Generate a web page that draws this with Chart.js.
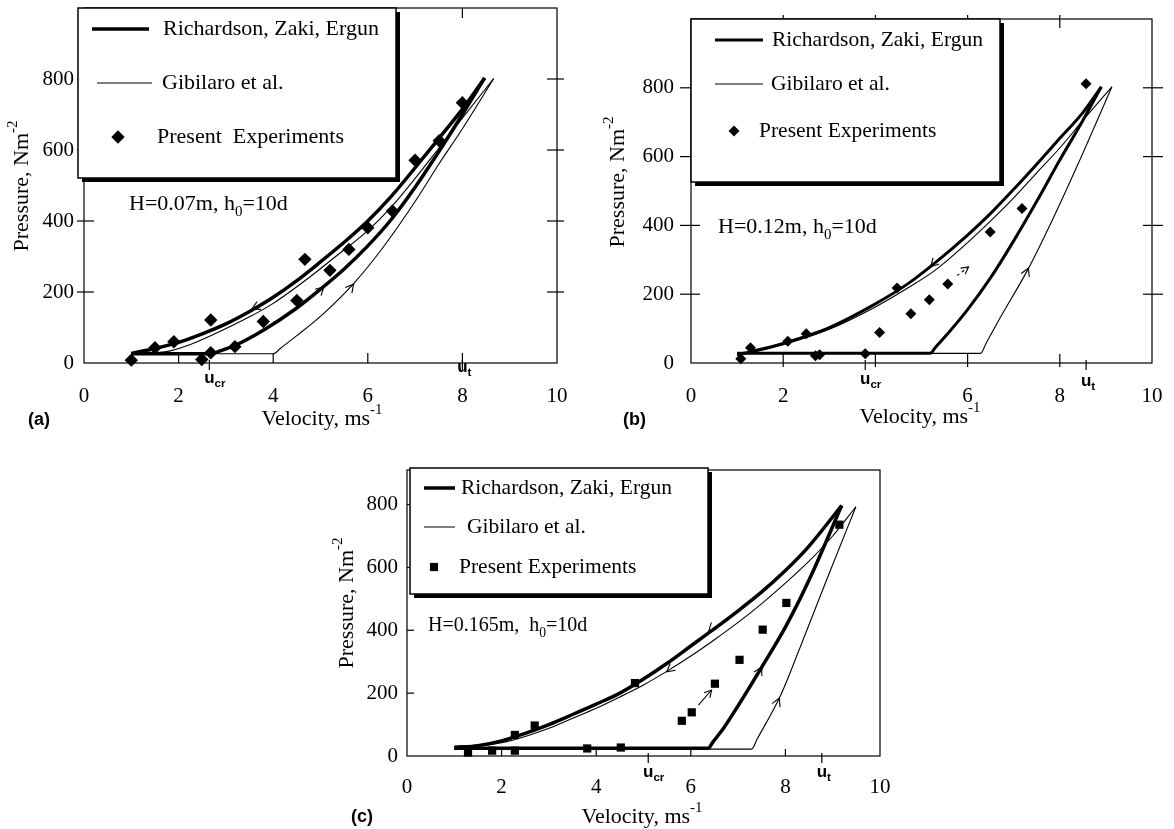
<!DOCTYPE html>
<html>
<head>
<meta charset="utf-8">
<script src="https://cdn.jsdelivr.net/npm/chart.js@4.4.1/dist/chart.umd.min.js"></script>
<style>
body { margin: 0; background: #fff; }
#wrap { position: relative; width: 1174px; height: 829px; overflow: hidden; background: #fff; }
#wrap canvas { position: absolute; }
</style>
</head>
<body>
<div id="wrap">
  <canvas id="chartA" width="600" height="440" style="left:0px;top:0px"></canvas>
  <canvas id="chartB" width="574" height="440" style="left:600px;top:0px"></canvas>
  <canvas id="chartC" width="580" height="389" style="left:330px;top:440px"></canvas>
</div>
<script>
var xTicks = [0, 2, 4, 6, 8, 10];
var yTicks = [0, 200, 400, 600, 800];

// (a) H=0.07m
var aRzeDownX = [1.0, 1.5, 2.0, 2.5, 3.0, 3.5, 4.0, 4.5, 5.0, 5.5, 6.0, 6.5, 7.0, 7.5, 8.0, 8.47];
var aRzeDownY = [27, 41, 58, 82, 110, 145, 185, 232, 285, 340, 400, 470, 550, 632, 715, 803];
var aRzeUpX = [1.0, 2.7, 2.85, 3.2, 3.8, 4.5, 5.0, 5.5, 6.0, 6.5, 7.0, 7.5, 8.0, 8.47];
var aRzeUpY = [26, 26, 33, 50, 93, 155, 208, 265, 330, 405, 495, 595, 700, 803];
var aGibDownX = [1.0, 1.75, 2.25, 2.7, 3.5, 4.0, 4.8, 5.3, 6.0, 6.5, 7.0, 7.5, 8.0, 8.66];
var aGibDownY = [26, 32, 52, 78, 130, 168, 245, 298, 373, 440, 520, 605, 690, 801];
var aGibUpX = [1.0, 4.01, 4.15, 4.5, 5.07, 5.71, 6.34, 7.0, 7.5, 8.0, 8.66];
var aGibUpY = [26, 26, 41, 77, 140, 225, 329, 455, 560, 660, 801];
var aExpX = [1.0, 1.5, 1.9, 2.49, 2.68, 2.68, 3.19, 3.79, 4.5, 4.67, 5.2, 5.6, 6.0, 6.52, 7.0, 7.51, 8.0];
var aExpY = [8, 43, 60, 10, 29, 121, 46, 117, 176, 292, 261, 320, 381, 428, 571, 626, 733];
var aArrows = [[3.85, 172, 3.55, 152], [4.8, 180, 5.07, 214], [5.45, 182, 5.7, 222]];

// (b) H=0.12m
var bRzeDownX = [1.0, 1.3, 2.0, 3.0, 4.0, 4.7, 5.3, 6.0, 6.5, 7.0, 7.5, 8.0, 8.5, 8.9];
var bRzeDownY = [24, 33, 57, 103, 172, 230, 292, 372, 435, 505, 578, 653, 728, 803];
var bRzeUpX = [1.0, 5.19, 5.3, 5.6, 6.0, 6.5, 7.0, 7.5, 8.0, 8.5, 8.9];
var bRzeUpY = [28, 28, 45, 90, 155, 248, 355, 470, 590, 705, 803];
var bGibDownX = [1.0, 1.3, 2.0, 3.0, 4.0, 4.7, 5.3, 6.0, 6.5, 7.0, 7.5, 8.0, 8.5, 9.13];
var bGibDownY = [24, 30, 53, 98, 163, 218, 270, 350, 413, 480, 553, 625, 705, 803];
var bGibUpX = [1.0, 6.28, 6.4, 6.7, 7.3, 7.8, 8.5, 9.13];
var bGibUpY = [28, 28, 57, 130, 270, 405, 610, 803];
var bExpX = [1.08, 1.29, 2.10, 2.50, 2.70, 2.79, 3.78, 4.09, 4.47, 4.77, 5.17, 5.57, 6.49, 7.18, 8.57];
var bExpY = [12, 44, 63, 85, 21, 24, 27, 89, 218, 143, 184, 230, 381, 449, 812];
var bArrows = [[5.5, 322, 5.2, 280], [7.2, 240, 7.32, 276]];
var bShafts = [[5.77, 254, 6.02, 279]];

// (c) H=0.165m
var cRzeDownX = [1.0, 1.5, 2.0, 2.5, 3.0, 3.5, 4.0, 4.5, 5.0, 5.5, 6.0, 6.5, 7.0, 7.5, 8.0, 8.5, 9.19];
var cRzeDownY = [28, 33, 48, 72, 100, 132, 165, 200, 245, 295, 350, 405, 462, 522, 590, 668, 797];
var cRzeUpX = [1.0, 6.37, 6.47, 6.7, 7.0, 7.5, 8.0, 8.5, 9.19];
var cRzeUpY = [25, 25, 45, 90, 160, 283, 410, 560, 797];
var cGibDownX = [1.3, 2.0, 2.5, 3.0, 3.5, 4.0, 4.5, 5.0, 5.5, 6.0, 6.5, 7.0, 7.5, 8.0, 8.5, 9.0, 9.49];
var cGibDownY = [26, 42, 62, 88, 120, 152, 188, 226, 270, 318, 370, 425, 485, 550, 620, 700, 793];
var cGibUpX = [1.0, 7.29, 7.4, 7.89, 8.31, 8.87, 9.49];
var cGibUpY = [22, 22, 53, 190, 345, 560, 793];
var cExpX = [1.29, 1.80, 2.28, 2.28, 2.70, 3.81, 4.52, 4.82, 5.81, 6.02, 6.51, 7.03, 7.52, 8.02, 9.14];
var cExpY = [11, 17, 67, 17, 97, 24, 27, 232, 112, 139, 230, 306, 402, 487, 736];
var cArrows = [[6.7, 445, 6.38, 398], [5.8, 305, 5.49, 268], [7.4, 255, 7.5, 283], [7.77, 150, 7.87, 184]];
var cShafts = [[6.16, 162, 6.44, 210]];

var serif = "'Liberation Serif', 'Times New Roman', serif";
var sans = "'Liberation Sans', Arial, sans-serif";

function pts(xs, ys) {
  var out = [];
  for (var i = 0; i < xs.length; i++) out.push({x: xs[i], y: ys[i]});
  return out;
}

function richWidth(ctx, parts, size, family, weight) {
  var w = 0;
  parts.forEach(function (p) {
    ctx.font = (weight || '') + ' ' + (p[1] ? size * 0.68 : size) + 'px ' + family;
    w += ctx.measureText(p[0]).width;
  });
  return w;
}

function drawRich(ctx, parts, x, y, size, family, center, weight) {
  if (center) x -= richWidth(ctx, parts, size, family, weight) / 2;
  ctx.textAlign = 'left';
  ctx.textBaseline = 'middle';
  parts.forEach(function (p) {
    var s = p[1] ? size * 0.68 : size;
    var dy = p[1] == 'sub' ? size * 0.36 : (p[1] == 'sup' ? -size * 0.42 : 0);
    ctx.font = (weight || '') + ' ' + s + 'px ' + family;
    ctx.fillText(p[0], x, y + dy);
    x += ctx.measureText(p[0]).width;
  });
}

function seg(ctx, x1, y1, x2, y2) {
  ctx.beginPath(); ctx.moveTo(x1, y1); ctx.lineTo(x2, y2); ctx.stroke();
}

function head(ctx, x1, y1, x2, y2, len) {
  var ang = Math.atan2(y2 - y1, x2 - x1);
  ctx.beginPath();
  ctx.moveTo(x2 - len * Math.cos(ang - 0.5), y2 - len * Math.sin(ang - 0.5));
  ctx.lineTo(x2, y2);
  ctx.lineTo(x2 - len * Math.cos(ang + 0.5), y2 - len * Math.sin(ang + 0.5));
  ctx.stroke();
}

function marker(ctx, style, x, y, r) {
  ctx.beginPath();
  if (style == 'rect') {
    var s = r * Math.SQRT1_2;
    ctx.rect(x - s, y - s, 2 * s, 2 * s);
  } else {
    ctx.moveTo(x - r, y); ctx.lineTo(x, y - r); ctx.lineTo(x + r, y); ctx.lineTo(x, y + r);
    ctx.closePath();
  }
  ctx.fill();
}

function figPlugin(cfg) {
  return {
    id: 'fig',
    beforeDatasetsDraw: function (chart) {
      var ctx = chart.ctx, a = chart.chartArea, xs = chart.scales.x, ys = chart.scales.y;
      ctx.save();
      ctx.strokeStyle = '#000';
      ctx.lineWidth = 1.2;
      ctx.strokeRect(a.left, a.top, a.right - a.left, a.bottom - a.top);
      xTicks.forEach(function (v) {
        if (v <= 0 || v >= 10) return;
        var px = xs.getPixelForValue(v);
        seg(ctx, px, a.bottom + cfg.tickOutX, px, a.bottom - cfg.tickIn);
        if (cfg.allSides) seg(ctx, px, a.top - cfg.tickOutX, px, a.top + cfg.tickIn);
      });
      yTicks.forEach(function (v) {
        if (v <= 0) return;
        var py = ys.getPixelForValue(v);
        seg(ctx, a.left - cfg.tickOut, py, a.left + cfg.tickIn, py);
        if (cfg.allSides) seg(ctx, a.right + cfg.tickOut, py, a.right - cfg.tickIn, py);
      });
      [cfg.ucr, cfg.ut].forEach(function (v) {
        var px = xs.getPixelForValue(v);
        seg(ctx, px, a.bottom - 3, px, a.bottom + 7);
      });
      ctx.restore();
    },
    afterDatasetsDraw: function (chart) {
      var ctx = chart.ctx, xs = chart.scales.x, ys = chart.scales.y;
      ctx.save();
      ctx.strokeStyle = '#000';
      ctx.fillStyle = '#000';
      ctx.lineWidth = 1.1;
      cfg.arrows.forEach(function (q) {
        head(ctx, xs.getPixelForValue(q[0]), ys.getPixelForValue(q[1]), xs.getPixelForValue(q[2]), ys.getPixelForValue(q[3]), 9);
      });
      cfg.shafts.forEach(function (q) {
        var x1 = xs.getPixelForValue(q[0]), y1 = ys.getPixelForValue(q[1]);
        var x2 = xs.getPixelForValue(q[2]), y2 = ys.getPixelForValue(q[3]);
        ctx.setLineDash(cfg.shaftDash);
        seg(ctx, x1, y1, x2, y2);
        ctx.setLineDash([]);
        head(ctx, x1, y1, x2, y2, 8);
      });

      // legend box with drop shadow
      var L = cfg.legend;
      ctx.fillStyle = '#000';
      ctx.fillRect(L.x + 4, L.y + 4, L.w, L.h);
      ctx.fillStyle = '#fff';
      ctx.fillRect(L.x, L.y, L.w, L.h);
      ctx.lineWidth = 1.5;
      ctx.strokeRect(L.x, L.y, L.w, L.h);
      ctx.fillStyle = '#000';
      L.rows.forEach(function (r, i) {
        if (r.lw) {
          ctx.lineWidth = r.lw;
          seg(ctx, r.x1, r.y, r.x2, r.y);
        } else {
          marker(ctx, cfg.marker, r.x1, r.y, r.r);
        }
        drawRich(ctx, [[cfg.names[i], '']], r.tx, r.y, L.size, serif);
      });

      drawRich(ctx, cfg.note, cfg.noteX, cfg.noteY, cfg.noteSize, serif);

      // u_cr and u_t under the axis
      cfg.uLabels.forEach(function (u) {
        var px = xs.getPixelForValue(u.v);
        ctx.font = 'bold 17px ' + sans;
        var w = ctx.measureText('u').width;
        drawRich(ctx, [['u', ''], [u.sub, 'sub']], px - w / 2, u.y, 17, sans, false, 'bold');
      });

      ctx.save();
      ctx.translate(cfg.yTitle[0], cfg.yTitle[1]);
      ctx.rotate(-Math.PI / 2);
      drawRich(ctx, [['Pressure, Nm', ''], ['-2', 'sup']], 0, 0, 22, serif, true);
      ctx.restore();
      drawRich(ctx, [['Velocity, ms', ''], ['-1', 'sup']], cfg.xTitle[0], cfg.xTitle[1], 22, serif, true);
      drawRich(ctx, [[cfg.panel, '']], cfg.panelPos[0], cfg.panelPos[1], 18, sans, false, 'bold');
      ctx.restore();
    }
  };
}

function lineSet(data, w) {
  return {data: data, showLine: true, borderColor: '#000', borderWidth: w, pointRadius: 0,
    cubicInterpolationMode: 'monotone', fill: false, clip: false};
}

function makeChart(id, p) {
  return new Chart(id, {
    type: 'scatter',
    data: {
      datasets: [
        {label: p.names[2], data: p.exp, showLine: false, pointStyle: p.marker, pointRadius: p.markerR,
          pointHoverRadius: p.markerR, backgroundColor: '#000', borderColor: '#000', borderWidth: 0, clip: false},
        lineSet(p.rzeDown, p.thick),
        lineSet(p.rzeUp, p.thick),
        lineSet(p.gibDown, 1.1),
        lineSet(p.gibUp, 1.1)
      ]
    },
    options: {
      responsive: false,
      animation: false,
      events: [],
      layout: {padding: p.padding},
      plugins: {legend: {display: false}, tooltip: {enabled: false}},
      scales: {
        x: {
          type: 'linear', min: 0, max: 10,
          afterBuildTicks: function (s) { s.ticks = xTicks.map(function (v) { return {value: v}; }); },
          afterFit: function (s) { s.height = p.xH; s.paddingLeft = 0; s.paddingRight = 0; },
          grid: {display: false, drawTicks: false},
          border: {display: false},
          ticks: {
            padding: p.xPad, color: '#000', maxRotation: 0, autoSkip: false,
            font: {family: serif, size: 21},
            callback: function (v) { return p.hideX.indexOf(v) >= 0 ? '' : String(v); }
          }
        },
        y: {
          type: 'linear', min: 0, max: p.yMax,
          afterBuildTicks: function (s) { s.ticks = yTicks.map(function (v) { return {value: v}; }); },
          afterFit: function (s) { s.width = p.yW; s.paddingTop = 0; s.paddingBottom = 0; },
          grid: {display: false, drawTicks: false},
          border: {display: false},
          ticks: {padding: p.yPad, color: '#000', font: {family: serif, size: 21}}
        }
      }
    },
    plugins: [figPlugin(p)]
  });
}

makeChart('chartA', {
  rzeDown: pts(aRzeDownX, aRzeDownY), rzeUp: pts(aRzeUpX, aRzeUpY),
  gibDown: pts(aGibDownX, aGibDownY), gibUp: pts(aGibUpX, aGibUpY),
  exp: pts(aExpX, aExpY), marker: 'rectRot', markerR: 6.7, thick: 3.5,
  names: ['Richardson, Zaki, Ergun', 'Gibilaro et al.', 'Present  Experiments'],
  padding: {left: 0, top: 8, right: 43, bottom: 0}, yW: 84, xH: 77, yMax: 1000,
  xPad: 21, yPad: 10, hideX: [],
  tickIn: 10, tickOut: 7, tickOutX: 0, allSides: true,
  ucr: 2.65, ut: 8.0,
  uLabels: [{v: 2.65, sub: 'cr', y: 378}, {v: 8.0, sub: 't', y: 367}],
  arrows: aArrows, shafts: [], shaftDash: [],
  legend: {x: 78, y: 8, w: 318, h: 170, size: 22, rows: [
    {lw: 3.5, x1: 92, x2: 149, y: 29, tx: 163},
    {lw: 1, x1: 97, x2: 152, y: 83, tx: 162},
    {r: 6.7, x1: 118, y: 137, tx: 157}]},
  note: [['H=0.07m, h', ''], ['0', 'sub'], ['=10d', '']], noteX: 129, noteY: 204, noteSize: 22,
  yTitle: [22, 186], xTitle: [322, 419], panel: '(a)', panelPos: [28, 420]
});

makeChart('chartB', {
  rzeDown: pts(bRzeDownX, bRzeDownY), rzeUp: pts(bRzeUpX, bRzeUpY),
  gibDown: pts(bGibDownX, bGibDownY), gibUp: pts(bGibUpX, bGibUpY),
  exp: pts(bExpX, bExpY), marker: 'rectRot', markerR: 5.5, thick: 3,
  names: ['Richardson, Zaki, Ergun', 'Gibilaro et al.', 'Present Experiments'],
  padding: {left: 0, top: 19, right: 22, bottom: 0}, yW: 91, xH: 77, yMax: 1000,
  xPad: 21, yPad: 17, hideX: [4],
  tickIn: 9, tickOut: 11, tickOutX: 4, allSides: true,
  ucr: 3.78, ut: 8.57,
  uLabels: [{v: 3.78, sub: 'cr', y: 379}, {v: 8.57, sub: 't', y: 381}],
  arrows: bArrows, shafts: bShafts, shaftDash: [3, 3],
  legend: {x: 91, y: 19, w: 309, h: 163, size: 21.5, rows: [
    {lw: 3, x1: 115, x2: 163, y: 40, tx: 172},
    {lw: 1, x1: 115, x2: 163, y: 84, tx: 171},
    {r: 5.5, x1: 134, y: 131, tx: 159}]},
  note: [['H=0.12m, h', ''], ['0', 'sub'], ['=10d', '']], noteX: 118, noteY: 227, noteSize: 22,
  yTitle: [18, 182], xTitle: [320, 417], panel: '(b)', panelPos: [23, 420]
});

makeChart('chartC', {
  rzeDown: pts(cRzeDownX, cRzeDownY), rzeUp: pts(cRzeUpX, cRzeUpY),
  gibDown: pts(cGibDownX, cGibDownY), gibUp: pts(cGibUpX, cGibUpY),
  exp: pts(cExpX, cExpY), marker: 'rect', markerR: 5.8, thick: 3.5,
  names: ['Richardson, Zaki, Ergun', 'Gibilaro et al.', 'Present Experiments'],
  padding: {left: 0, top: 30, right: 30, bottom: 0}, yW: 77, xH: 73, yMax: 910,
  xPad: 19, yPad: 9, hideX: [],
  tickIn: 7, tickOut: 0, tickOutX: 0, allSides: false,
  ucr: 5.1, ut: 8.77,
  uLabels: [{v: 5.1, sub: 'cr', y: 332}, {v: 8.77, sub: 't', y: 332}],
  arrows: cArrows, shafts: cShafts, shaftDash: [],
  legend: {x: 80, y: 28, w: 298, h: 126, size: 21.5, rows: [
    {lw: 3.5, x1: 94, x2: 125, y: 48, tx: 131},
    {lw: 1, x1: 94, x2: 125, y: 87, tx: 137},
    {r: 5.8, x1: 104, y: 127, tx: 129}]},
  note: [['H=0.165m,  h', ''], ['0', 'sub'], ['=10d', '']], noteX: 98, noteY: 186, noteSize: 20,
  yTitle: [17, 163], xTitle: [312, 377], panel: '(c)', panelPos: [21, 377]
});
</script>
</body>
</html>
